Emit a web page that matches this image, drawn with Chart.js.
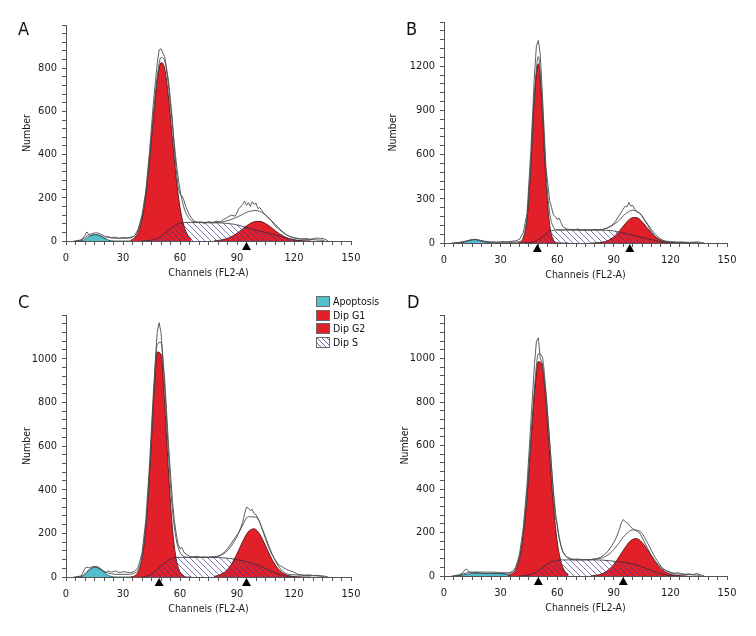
<!DOCTYPE html>
<html>
<head>
<meta charset="utf-8">
<title>DNA content histograms</title>
<script src="https://cdn.jsdelivr.net/npm/chart.js@4.4.1/dist/chart.umd.min.js"></script>
<style>
  body { margin: 0; background: #fff; }
  #fig { position: relative; width: 756px; height: 636px; overflow: hidden;
         font-family: 'Liberation Sans Narrow', 'DejaVu Sans Condensed', sans-serif; color: #111; }
  #fig canvas { position: absolute; }
  .tag { position: absolute; font-size: 18px; line-height: 18px; }
  .legend { position: absolute; left: 316px; top: 295px; font-size: 10.5px; line-height: 13.5px; }
  .legend .row { height: 13.5px; display: flex; align-items: center; }
  .legend .sw { width: 14px; height: 11px; border: 1px solid #6a6a6a; box-sizing: border-box; margin-right: 3px; }
</style>
</head>
<body>
<div id="fig">
  <canvas id="chartA" width="378" height="290" style="left:0;top:0"></canvas>
  <canvas id="chartB" width="378" height="290" style="left:378px;top:0"></canvas>
  <canvas id="chartC" width="378" height="346" style="left:0;top:290px"></canvas>
  <canvas id="chartD" width="378" height="346" style="left:378px;top:290px"></canvas>
  <div class="tag" style="left:18px;top:20px">A</div>
  <div class="tag" style="left:406px;top:20px">B</div>
  <div class="tag" style="left:18px;top:293px">C</div>
  <div class="tag" style="left:407px;top:293px">D</div>
  <div class="legend">
    <div class="row"><span class="sw" style="background:#52bfcf"></span>Apoptosis</div>
    <div class="row"><span class="sw" style="background:#e2202a"></span>Dip G1</div>
    <div class="row"><span class="sw" style="background:#e2202a"></span>Dip G2</div>
    <div class="row"><span class="sw" style="background:repeating-linear-gradient(45deg,#fff 0 2.5px,#6a6ab0 2.5px 3.5px)"></span>Dip S</div>
  </div>
</div>
<script>
// Canaux (axe X) de chaque composante
const apopCh = [6, 9, 12, 15, 18, 21, 24, 27, 30, 33, 36];
const g1Ch = [34, 36, 38, 40, 42, 44, 46, 48, 50, 52, 54, 56, 58, 60, 62, 64, 66];
const g2Ch = [78, 81, 84, 87, 90, 93, 96, 99, 102, 105, 108, 111, 114, 117, 120, 123, 126, 129];
const sCh = [40, 44, 48, 52, 56, 60, 64, 68, 72, 76, 80, 84, 88, 92, 96, 100, 104, 108, 112, 116, 120, 124];
const fitCh = [4, 8, 12, 16, 20, 24, 28, 32, 36, 38, 40, 42, 44, 46, 48, 50, 52, 54, 56, 58,
  60, 62, 64, 66, 68, 72, 76, 80, 84, 88, 92, 96, 100, 104, 108, 112, 116, 120, 124, 128, 132, 136];
const rawCh = [5, 8, 10, 11, 12, 13, 15, 17, 19, 21, 22, 24, 26, 28, 30, 32, 34, 36, 38, 40,
  42, 44, 46, 48, 49, 50, 51, 52, 54, 56, 57, 58, 59, 60, 61, 62, 63, 65, 67, 69,
  71, 73, 75, 77, 79, 81, 83, 85, 87, 89, 91, 93, 94, 95, 96, 97, 98, 99, 100, 101,
  102, 104, 106, 108, 110, 112, 114, 116, 118, 120, 122, 124, 126, 128, 130, 132, 134, 136, 138];

// Panel A
const apopA = [0, 3, 20, 30, 25, 8, 1, 0, 0, 0, 0];
const g1A = [3, 14, 40, 100, 210, 375, 570, 740, 826, 796, 662, 474, 293, 156, 72, 29, 8];
const g2A = [1, 4, 10, 20, 36, 56, 76, 89, 91, 81, 63, 42, 25, 12, 5, 2, 1, 0];
const sA = [0, 3, 12, 35, 65, 82, 86, 86, 85, 84, 84, 82, 78, 70, 60, 50, 41, 33, 24, 14, 6, 0];
const fitA = [0, 5, 28, 38, 24, 14, 13, 13, 24, 52, 110, 221, 388, 585, 760, 850, 833, 712, 539, 368,
  238, 157, 115, 94, 88, 87, 86, 86, 92, 103, 119, 136, 141, 127, 96, 60, 30, 14, 9, 7, 5, 3];
const rawA = [0, 5, 25, 42, 30, 25, 30, 28, 20, 12, 20, 15, 18, 12, 16, 14, 18, 22, 55, 120,
  230, 420, 640, 820, 885, 890, 870, 850, 740, 560, 430, 330, 250, 218, 210, 190, 160, 120, 95, 85,
  88, 80, 90, 85, 92, 88, 100, 110, 120, 115, 150, 170, 185, 165, 178, 160, 182, 170, 175, 150,
  155, 130, 110, 95, 70, 55, 40, 28, 20, 15, 12, 8, 12, 8, 10, 14, 12, 10, 0];
const marksA = [95];

// Panel B
const apopB = [0, 2, 12, 22, 20, 10, 2, 0, 0, 0, 0];
const g1B = [0, 0, 0, 4, 33, 165, 517, 1006, 1217, 915, 427, 124, 22, 2, 0, 0, 0];
const g2B = [0, 2, 6, 17, 42, 82, 130, 167, 173, 145, 98, 54, 24, 8, 2, 0, 0, 0];
const sB = [0, 2, 10, 40, 80, 88, 89, 89, 88, 88, 88, 87, 85, 77, 66, 54, 41, 29, 17, 7, 2, 0];
const fitB = [0, 3, 14, 25, 16, 8, 6, 6, 6, 7, 10, 36, 170, 525, 1016, 1265, 960, 490, 205, 108,
  90, 88, 89, 89, 89, 88, 88, 89, 93, 109, 144, 196, 222, 198, 127, 59, 19, 5, 3, 2, 2, 1];
const rawB = [0, 3, 8, 10, 12, 15, 22, 25, 15, 10, 8, 5, 6, 4, 8, 10, 7, 12, 15, 25,
  70, 200, 620, 1150, 1340, 1375, 1280, 1050, 520, 290, 240, 190, 180, 160, 170, 140, 110, 95, 92, 90,
  95, 88, 92, 86, 90, 92, 88, 95, 105, 120, 150, 190, 210, 230, 250, 245, 275, 250, 255, 230,
  215, 200, 160, 120, 75, 45, 25, 15, 12, 10, 8, 6, 8, 5, 4, 6, 8, 4, 0];
const marksB = [49.5, 98.5];

// Panel C
const apopC = [0, 4, 30, 46, 38, 14, 2, 0, 0, 0, 0];
const g1C = [0, 5, 24, 83, 225, 476, 785, 1030, 1020, 785, 476, 225, 83, 24, 5, 0, 0];
const g2C = [3, 10, 26, 58, 106, 163, 208, 221, 196, 144, 88, 45, 19, 7, 2, 0, 0, 0];
const sC = [0, 8, 35, 65, 86, 90, 90, 90, 90, 90, 89, 87, 83, 76, 68, 57, 43, 27, 12, 3, 0, 0];
const fitC = [0, 3, 32, 48, 26, 14, 12, 12, 18, 34, 93, 233, 484, 805, 1065, 1075, 850, 553, 311, 172,
  114, 95, 90, 90, 90, 90, 92, 96, 113, 155, 220, 276, 274, 206, 115, 47, 15, 10, 8, 7, 5, 3];
const rawC = [0, 5, 40, 45, 42, 45, 48, 40, 30, 20, 28, 22, 28, 20, 24, 22, 20, 25, 45, 110,
  260, 520, 850, 1120, 1165, 1120, 1000, 900, 600, 350, 260, 200, 150, 130, 135, 115, 105, 95, 92, 95,
  90, 92, 88, 93, 90, 98, 110, 130, 155, 180, 205, 250, 290, 320, 315, 305, 310, 290, 285, 270,
  250, 200, 150, 110, 80, 55, 45, 35, 28, 22, 12, 10, 8, 10, 6, 8, 5, 4, 0];
const marksC = [49, 95];

// Panel D
const apopD = [0, 3, 8, 11, 12, 12, 12, 12, 11, 8, 1];
const g1D = [2, 9, 29, 80, 186, 367, 607, 844, 986, 969, 801, 556, 325, 159, 66, 23, 7];
const g2D = [1, 4, 11, 27, 53, 91, 131, 163, 172, 154, 118, 77, 43, 20, 8, 3, 1, 0];
const sD = [0, 3, 15, 38, 62, 72, 74, 74, 74, 74, 74, 73, 70, 66, 62, 56, 45, 32, 19, 8, 1, 0];
const fitD = [0, 4, 14, 18, 18, 18, 17, 15, 20, 38, 88, 197, 380, 625, 869, 1022, 1010, 852, 618, 393,
  231, 139, 97, 81, 75, 74, 75, 77, 84, 104, 143, 188, 212, 205, 150, 84, 35, 14, 9, 7, 5, 3];
const rawD = [0, 5, 15, 28, 32, 20, 15, 18, 12, 14, 10, 12, 10, 12, 10, 12, 8, 15, 40, 100,
  220, 420, 700, 980, 1080, 1095, 1000, 980, 840, 620, 500, 380, 270, 240, 180, 140, 110, 88, 80, 77,
  78, 75, 76, 74, 78, 80, 86, 98, 115, 140, 170, 215, 245, 260, 250, 245, 238, 225, 218, 212,
  208, 195, 160, 125, 95, 68, 48, 32, 24, 18, 12, 15, 10, 8, 10, 6, 12, 5, 0];
const marksD = [50, 95];

// Couleurs
const RED = "#e2202a";
const CYAN = "#52bfcf";
const AXIS = "#555";
const LINE = "#4d4d4d";

Chart.defaults.font.family = "'Liberation Sans Narrow', 'DejaVu Sans Condensed', sans-serif";
Chart.defaults.color = "#1a1a1a";

// Motif hachuré de la phase S
function makeHatch() {
  const s = 6;
  const c = document.createElement("canvas");
  c.width = s; c.height = s;
  const g = c.getContext("2d");
  g.strokeStyle = "rgba(55, 55, 150, 0.65)";
  g.lineWidth = 1;
  g.beginPath();
  g.moveTo(0, 0); g.lineTo(s, s);
  g.moveTo(-1, s - 1); g.lineTo(1, s + 1);
  g.moveTo(s - 1, -1); g.lineTo(s + 1, 1);
  g.stroke();
  return g.createPattern(c, "repeat");
}
const hatch = makeHatch();

// Triangles noirs sous l'axe X (positions des pics)
const peakMarkers = {
  id: "peakMarkers",
  afterDraw(chart, args, opts) {
    const { ctx, chartArea, scales } = chart;
    ctx.save();
    ctx.fillStyle = "#000";
    for (const ch of opts.channels) {
      const px = scales.x.getPixelForValue(ch);
      const top = chartArea.bottom + 1;
      ctx.beginPath();
      ctx.moveTo(px, top);
      ctx.lineTo(px - 4.5, top + 8);
      ctx.lineTo(px + 4.5, top + 8);
      ctx.closePath();
      ctx.fill();
    }
    ctx.restore();
  }
};

function pts(xs, ys) {
  return xs.map((x, i) => ({ x: x, y: ys[i] }));
}

const panels = [
  { id: "chartA", pad: { left: 0, top: 25, right: 27, bottom: 4 }, yMax: 1000, yStep: 40, yMajor: 200, titlePad: 21,
    apop: apopA, g1: g1A, g2: g2A, s: sA, fit: fitA, raw: rawA, marks: marksA },
  { id: "chartB", pad: { left: 0, top: 22, right: 29, bottom: 2 }, yMax: 1500, yStep: 60, yMajor: 300, titlePad: 9,
    apop: apopB, g1: g1B, g2: g2B, s: sB, fit: fitB, raw: rawB, marks: marksB },
  { id: "chartC", pad: { left: 0, top: 25, right: 27, bottom: 14 }, yMax: 1200, yStep: 40, yMajor: 200, titlePad: 21,
    apop: apopC, g1: g1C, g2: g2C, s: sC, fit: fitC, raw: rawC, marks: marksC },
  { id: "chartD", pad: { left: 0, top: 25, right: 29, bottom: 15 }, yMax: 1200, yStep: 40, yMajor: 200, titlePad: 21,
    apop: apopD, g1: g1D, g2: g2D, s: sD, fit: fitD, raw: rawD, marks: marksD }
];

panels.forEach(p => {
  new Chart(document.getElementById(p.id), {
    type: "line",
    data: {
      datasets: [
        { label: "Brut", data: pts(rawCh, p.raw), borderColor: LINE, borderWidth: 0.9, fill: false, tension: 0, order: 1 },
        { label: "Ajustement", data: pts(fitCh, p.fit), borderColor: LINE, borderWidth: 0.9, fill: false,
          cubicInterpolationMode: "monotone", order: 2 },
        { label: "Dip S", data: pts(sCh, p.s), borderColor: "#2d2d3a", borderWidth: 0.8, backgroundColor: hatch,
          fill: "origin", cubicInterpolationMode: "monotone", order: 3 },
        { label: "Dip G1", data: pts(g1Ch, p.g1), borderColor: "#3a0c0c", borderWidth: 0.8, backgroundColor: RED,
          fill: "origin", cubicInterpolationMode: "monotone", order: 4 },
        { label: "Apoptosis", data: pts(apopCh, p.apop), borderColor: "#1f4d55", borderWidth: 0.8, backgroundColor: CYAN,
          fill: "origin", cubicInterpolationMode: "monotone", order: 4 },
        { label: "Dip G2", data: pts(g2Ch, p.g2), borderColor: "#3a0c0c", borderWidth: 0.8, backgroundColor: RED,
          fill: "origin", cubicInterpolationMode: "monotone", order: 5 }
      ]
    },
    options: {
      responsive: false,
      animation: false,
      events: [],
      layout: { padding: p.pad },
      elements: { point: { radius: 0 } },
      scales: {
        x: {
          type: "linear", min: 0, max: 150,
          border: { display: true, color: AXIS, width: 1 },
          grid: { drawOnChartArea: false, drawTicks: true, tickLength: 4, color: AXIS },
          ticks: { stepSize: 5, autoSkip: false, maxRotation: 0, padding: 7, font: { size: 11 },
            callback: v => (v % 30 === 0 ? v : "") },
          title: { display: true, text: "Channeis (FL2-A)", font: { size: 10.5 }, padding: { top: 0, bottom: 6 } },
          afterFit: s => { s.height = 45; }
        },
        y: {
          type: "linear", min: 0, max: p.yMax,
          border: { display: true, color: AXIS, width: 1 },
          grid: { drawOnChartArea: false, drawTicks: true, tickLength: 4, color: AXIS },
          ticks: { stepSize: p.yStep, autoSkip: false, padding: 5, font: { size: 11 },
            callback: v => (v % p.yMajor === 0 && v < p.yMax ? v : "") },
          title: { display: true, text: "Number", font: { size: 10.5 }, padding: { top: p.titlePad, bottom: 0 } },
          afterFit: s => { s.width = 66; }
        }
      },
      plugins: {
        legend: { display: false },
        tooltip: { enabled: false },
        peakMarkers: { channels: p.marks }
      }
    },
    plugins: [peakMarkers]
  });
});
</script>
</body>
</html>
